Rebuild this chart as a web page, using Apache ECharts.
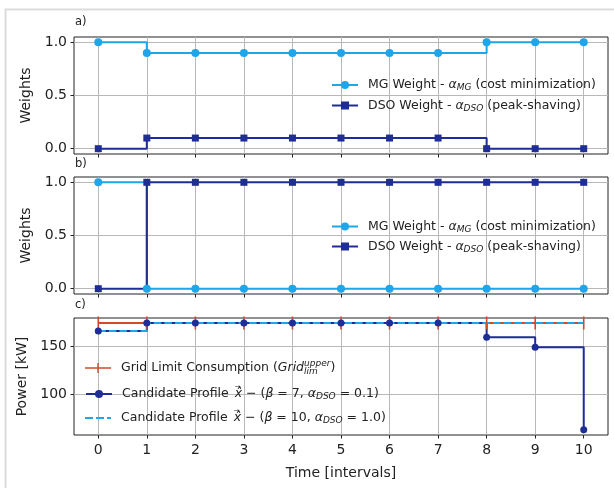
<!DOCTYPE html>
<html>
<head>
<meta charset="utf-8">
<script src="https://cdn.jsdelivr.net/npm/echarts@6.0.0/dist/echarts.min.js"></script>
<style>
  html, body { margin: 0; padding: 0; background: #fff; }
  #chart { width: 614px; height: 488px; }
</style>
</head>
<body>
<div id="chart"></div>
<script>
// time intervals
const steps = [0, 1, 2, 3, 4, 5, 6, 7, 8, 9, 10];

// a) weights
const mgWeightA = [1.0, 0.9, 0.9, 0.9, 0.9, 0.9, 0.9, 0.9, 1.0, 1.0, 1.0];
const dsoWeightA = [0.0, 0.1, 0.1, 0.1, 0.1, 0.1, 0.1, 0.1, 0.0, 0.0, 0.0];

// b) weights
const mgWeightB = [1, 0, 0, 0, 0, 0, 0, 0, 0, 0, 0];
const dsoWeightB = [0, 1, 1, 1, 1, 1, 1, 1, 1, 1, 1];

// c) power [kW]
const gridLimit = [174.4, 174.4, 174.4, 174.4, 174.4, 174.4, 174.4, 174.4, 174.4, 174.4, 174.4];
const profileBeta7 = [166, 174.4, 174.4, 174.4, 174.4, 174.4, 174.4, 174.4, 159.4, 149, 63];
const profileBeta10 = [166, 174.4, 174.4, 174.4, 174.4, 174.4, 174.4, 174.4, 174.4, 174.4, 174.4];

const weightTicks = [0, 0.5, 1.0];
const powerTicks = [100, 150];

const MG_COLOR = '#1ea5ea';
const DSO_COLOR = '#1f2d96';
const LIMIT_COLOR = '#cf4b2a';
const FONT = 'DejaVu Sans';
const AXIS_COLOR = '#222';

const pairs = ys => steps.map((x, i) => [x, ys[i]]);

const MG_NAME = 'MG Weight';
const DSO_NAME = 'DSO Weight';
const LIMIT_NAME = 'Grid Limit';
const B7_NAME = 'Candidate b7';
const B10_NAME = 'Candidate b10';

const legendRich = {
    sp: { width: 5 },
    t: { fontFamily: FONT, fontSize: 12.5, color: '#222', lineHeight: 18 },
    m: { fontFamily: FONT, fontSize: 12.5, fontStyle: 'italic', color: '#222', lineHeight: 18 },
    s: { fontFamily: FONT, fontSize: 9, fontStyle: 'italic', color: '#222', padding: [6, 0, 0, 0] },
    sub0: { fontFamily: FONT, fontSize: 9, fontStyle: 'italic', color: '#222', padding: [8, 0, 0, 0], width: 0 },
    sup: { fontFamily: FONT, fontSize: 9, fontStyle: 'italic', color: '#222', padding: [0, 0, 9, 0] },
    // small arrow drawn over the x (zero width so x starts at the same place)
    arr: { fontFamily: FONT, fontSize: 7, color: '#222', padding: [0, 0, 13, 2], width: 0 },
};

const xVec = '{arr|→}{m|x\u0302}';

const legendTexts = {};
legendTexts[MG_NAME] = '{sp|}{t|MG Weight - }{m|α}{s|MG}{t| (cost minimization)}';
legendTexts[DSO_NAME] = '{sp|}{t|DSO Weight - }{m|α}{s|DSO}{t| (peak-shaving)}';
legendTexts[LIMIT_NAME] = '{sp|}{t|Grid Limit Consumption (}{m|Grid}{sub0|lim}{sup|upper}{t|)}';
legendTexts[B7_NAME] = '{sp|}{t|Candidate Profile }' + xVec + '{t| − (}{m|β}{t| = 7, }{m|α}{s|DSO}{t| = 0.1)}';
legendTexts[B10_NAME] = '{sp|}{t|Candidate Profile }' + xVec + '{t| − (}{m|β}{t| = 10, }{m|α}{s|DSO}{t| = 1.0)}';

function legendRow(name, left, centerY, icon) {
    const item = { name: name };
    if (icon) item.icon = icon;
    return {
        data: [item],
        left: left,
        top: centerY - 9,
        padding: 0,
        itemWidth: 26,
        itemHeight: 10,
        selectedMode: false,
        formatter: n => legendTexts[n],
        textStyle: { rich: legendRich },
    };
}

const grids = [
    { left: 74, right: 6, top: 37, height: 117 },
    { left: 74, right: 6, top: 177, height: 117 },
    { left: 74, right: 6, top: 318, height: 117 },
].map(g => Object.assign(g, { show: true, borderColor: AXIS_COLOR, borderWidth: 1, containLabel: false }));

function xAxis(gridIndex, withLabels) {
    return {
        type: 'value',
        gridIndex: gridIndex,
        min: -0.5,
        max: 10.5,
        axisLine: { show: false, onZero: false },
        axisTick: { show: true, inside: false, length: 3.5, customValues: steps, lineStyle: { color: AXIS_COLOR } },
        axisLabel: {
            show: withLabels, customValues: steps, margin: 8,
            fontFamily: FONT, fontSize: 14, color: '#222',
        },
        splitLine: { show: true, lineStyle: { color: '#b8b8b8', width: 1 } },
        name: withLabels ? 'Time [intervals]' : '',
        nameLocation: 'middle',
        nameGap: 31,
        nameTextStyle: { fontFamily: FONT, fontSize: 14, color: '#222' },
    };
}

function yAxis(gridIndex, min, max, ticks, name, digits, gap) {
    return {
        type: 'value',
        gridIndex: gridIndex,
        min: min,
        max: max,
        axisLine: { show: false, onZero: false },
        axisTick: { show: true, length: 3.5, customValues: ticks, lineStyle: { color: AXIS_COLOR } },
        axisLabel: {
            customValues: ticks, margin: 7,
            fontFamily: FONT, fontSize: 14, color: '#222',
            formatter: v => v.toFixed(digits),
        },
        splitLine: { show: true, lineStyle: { color: '#b8b8b8', width: 1 } },
        name: name,
        nameLocation: 'middle',
        nameGap: gap,
        nameTextStyle: { fontFamily: FONT, fontSize: 14, color: '#222' },
    };
}

function stepLine(name, idx, ys, color, symbol, size, extra) {
    return Object.assign({
        name: name,
        type: 'line',
        step: 'end',
        xAxisIndex: idx,
        yAxisIndex: idx,
        data: pairs(ys),
        symbol: symbol,
        symbolSize: size,
        showAllSymbol: true,
        clip: false,
        color: color,
        lineStyle: { color: color, width: 2 },
        itemStyle: { color: color },
        emphasis: { disabled: true },
        animation: false,
    }, extra || {});
}

// legend icons drawn in a 26x10 box
const plusIcon = 'path://M0,4.2H26V5.8H0Z M12.3,0H13.7V10H12.3Z';
const dashIcon = 'path://M0,4H8V6H0Z M11,4H19V6H11Z M22,4H26V6H22Z';

const option = {
    backgroundColor: '#fff',
    animation: false,
    grid: grids,
    xAxis: [xAxis(0, false), xAxis(1, false), xAxis(2, true)],
    yAxis: [
        yAxis(0, -0.05, 1.05, weightTicks, 'Weights', 1, 41),
        yAxis(1, -0.05, 1.05, weightTicks, 'Weights', 1, 41),
        yAxis(2, 57.5, 179.6, powerTicks, 'Power [kW]', 0, 44),
    ],
    legend: [
        legendRow(MG_NAME, 331, 87.5),
        legendRow(DSO_NAME, 331, 108),
        legendRow(MG_NAME, 331, 229),
        legendRow(DSO_NAME, 331, 249),
        legendRow(LIMIT_NAME, 85, 368, plusIcon),
        legendRow(B7_NAME, 85, 393),
        legendRow(B10_NAME, 85, 417, dashIcon),
    ],
    graphic: [
        // light frame around the figure
        { type: 'rect', left: 3, top: 7, shape: { width: 700, height: 600 }, style: { fill: 'none', stroke: '#dcdcdc', lineWidth: 2 }, silent: true },
        { type: 'text', left: 75, top: 16, style: { text: 'a)', fontFamily: FONT, fontSize: 11.5, fill: '#222' } },
        { type: 'text', left: 75, top: 158, style: { text: 'b)', fontFamily: FONT, fontSize: 11.5, fill: '#222' } },
        { type: 'text', left: 75, top: 299, style: { text: 'c)', fontFamily: FONT, fontSize: 11.5, fill: '#222' } },
    ],
    series: [
        stepLine(MG_NAME, 0, mgWeightA, MG_COLOR, 'circle', 8),
        stepLine(DSO_NAME, 0, dsoWeightA, DSO_COLOR, 'rect', 7),
        stepLine(MG_NAME, 1, mgWeightB, MG_COLOR, 'circle', 8),
        stepLine(DSO_NAME, 1, dsoWeightB, DSO_COLOR, 'rect', 7),
        stepLine(LIMIT_NAME, 2, gridLimit, LIMIT_COLOR, 'rect', [1.6, 13]),
        stepLine(B7_NAME, 2, profileBeta7, DSO_COLOR, 'circle', 7),
        stepLine(B10_NAME, 2, profileBeta10, MG_COLOR, 'none', 0, {
            lineStyle: { color: MG_COLOR, width: 2, type: [7.4, 3.2] },
        }),
    ],
};

const chart = echarts.init(document.getElementById('chart'), null, { renderer: 'canvas' });
chart.setOption(option);
window.addEventListener('resize', () => chart.resize());
</script>
</body>
</html>
